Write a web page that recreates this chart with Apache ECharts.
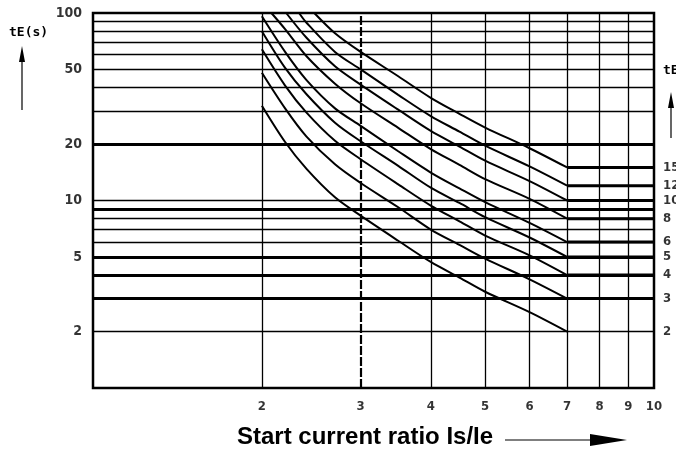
<!DOCTYPE html>
<html><head><meta charset="utf-8">
<script src="https://cdn.jsdelivr.net/npm/echarts@6/dist/echarts.min.js"></script>
<style>html,body{margin:0;padding:0;background:#fff}#c{width:676px;height:457px}</style>
</head><body><div id="c"></div>
<script>
// ---- data ----
var tEValues = [2, 3, 4, 5, 6, 8, 10, 12, 15];
var curve2  = [[2,32],[2.2,20.5],[2.4,14.8],[2.7,10.4],[3,8.3],[3.5,6.1],[4,4.7],[4.5,3.88],[5,3.26],[6,2.54],[7,2]];
var curve3  = [[2,48],[2.2,31],[2.4,22],[2.7,15.6],[3,12.4],[3.5,9.2],[4,7.0],[4.5,5.8],[5,4.9],[6,3.8],[7,3],[10,3]];
var curve4  = [[2,64],[2.2,41],[2.4,29.5],[2.7,20.8],[3,16.6],[3.5,12.2],[4,9.4],[4.5,7.75],[5,6.5],[6,5.1],[7,4],[10,4]];
var curve5  = [[2,80],[2.2,51],[2.4,37],[2.7,26],[3,20.7],[3.5,15.3],[4,11.7],[4.5,9.7],[5,8.15],[6,6.35],[7,5],[10,5]];
var curve6  = [[2,96],[2.2,62],[2.4,44],[2.7,31],[3,25],[3.5,18.3],[4,14.1],[4.5,11.6],[5,9.8],[6,7.6],[7,6],[10,6]];
var curve8  = [[2.08,100],[2.2,82],[2.4,59],[2.7,42],[3,33],[3.5,24.4],[4,18.8],[4.5,15.5],[5,13],[6,10.2],[7,8],[10,8]];
var curve10 = [[2.21,100],[2.4,74],[2.7,52],[3,41.5],[3.5,30.5],[4,23.5],[4.5,19.4],[5,16.3],[6,12.7],[7,10],[10,10]];
var curve12 = [[2.33,100],[2.4,89],[2.7,62],[3,50],[3.5,36.6],[4,28.2],[4.5,23.3],[5,19.6],[6,15.2],[7,12],[10,12]];
var curve15 = [[2.48,100],[2.7,78],[3,62],[3.5,46],[4,35.3],[4.5,29],[5,24.5],[6,19],[7,15],[10,15]];
var xTickLabels = [2, 3, 4, 5, 6, 7, 8, 9, 10];
var yTickLabels = [100, 50, 20, 10, 5, 2];
var yGridValues = [2, 3, 4, 5, 6, 7, 8, 9, 10, 20, 30, 40, 50, 60, 70, 80, 90];
var yThick = [20, 9, 5, 4, 3];
var xGridValues = [2, 4, 5, 6, 7, 8, 9];

var chart = echarts.init(document.getElementById('c'), null, {renderer: 'canvas'});
var numFont = "'Liberation Sans Narrow','DejaVu Sans Condensed',sans-serif";

var gridMarks = [];
yGridValues.forEach(function (v) {
  var w = yThick.indexOf(v) >= 0 ? 3 : 1.3;
  gridMarks.push({yAxis: v, lineStyle: {width: w, color: '#000', type: 'solid'}});
});
xGridValues.forEach(function (v) {
  gridMarks.push({xAxis: v, lineStyle: {width: 1.3, color: '#000', type: 'solid'}});
});
gridMarks.push({xAxis: 3, lineStyle: {width: 2.2, color: '#000', type: [9, 2]}});

var curves = [curve2, curve3, curve4, curve5, curve6, curve8, curve10, curve12, curve15];
var series = [];
series.push({
  type: 'line', data: [[1, 1]], symbol: 'none', silent: true, lineStyle: {width: 0},
  markLine: {symbol: 'none', silent: true, label: {show: false}, animation: false, data: gridMarks}
});
curves.forEach(function (c, i) {
  var hasTail = c[c.length - 1][0] === 10;
  series.push({
    type: 'line', name: 'tE=' + tEValues[i], data: hasTail ? c.slice(0, c.length - 1) : c, symbol: 'none',
    smooth: 0.3,
    lineStyle: {color: '#000', width: 2}, silent: true, animation: false, z: 3
  });
  if (hasTail) {
    series.push({
      type: 'line', data: [c[c.length - 2], c[c.length - 1]], symbol: 'none',
      lineStyle: {color: '#000', width: 3}, silent: true, animation: false, z: 3
    });
  }
});
series.push({
  type: 'scatter', data: xTickLabels.map(function (v) { return [v, 1]; }), symbolSize: 0, silent: true,
  label: {show: true, position: 'bottom', distance: 12, formatter: function (p) { return p.value[0]; },
    color: '#000', fontSize: 13, fontWeight: 'bold', fontFamily: numFont}
});
series.push({
  type: 'scatter', data: yTickLabels.map(function (v) { return [1, v]; }), symbolSize: 0, silent: true,
  label: {show: true, position: 'left', distance: 11, formatter: function (p) { return p.value[1]; },
    color: '#000', fontSize: 14, fontWeight: 'bold', fontFamily: numFont}
});
series.push({
  type: 'scatter', data: tEValues.map(function (v) { return [10, v]; }), symbolSize: 0, silent: true,
  label: {show: true, position: 'right', distance: 9, formatter: function (p) { return p.value[1]; },
    color: '#000', fontSize: 13, fontWeight: 'bold', fontFamily: numFont}
});

chart.setOption({
  animation: false,
  backgroundColor: '#fff',
  grid: {left: 93, right: 22, top: 13, bottom: 69, show: true, borderColor: '#000', borderWidth: 2.5, backgroundColor: 'transparent'},
  xAxis: {type: 'log', logBase: 10, min: 1, max: 10, axisLine: {show: false}, axisTick: {show: false}, axisLabel: {show: false}, splitLine: {show: false}},
  yAxis: {type: 'log', logBase: 10, min: 1, max: 100, axisLine: {show: false}, axisTick: {show: false}, axisLabel: {show: false}, splitLine: {show: false}},
  series: series,
  graphic: [
    {type: 'text', left: 9, top: 26, style: {text: 'tE(s)', font: "bold 13px 'DejaVu Sans Mono',monospace", fill: '#000'}},
    {type: 'line', shape: {x1: 22, y1: 56, x2: 22, y2: 110}, style: {stroke: '#000', lineWidth: 1.2}},
    {type: 'polygon', shape: {points: [[22, 46], [25, 62], [19, 62]]}, style: {fill: '#000'}},
    {type: 'text', left: 663, top: 64, style: {text: 'tE', font: "bold 13px 'DejaVu Sans Mono',monospace", fill: '#000'}},
    {type: 'line', shape: {x1: 671, y1: 100, x2: 671, y2: 138}, style: {stroke: '#000', lineWidth: 1.2}},
    {type: 'polygon', shape: {points: [[671, 92], [674, 108], [668, 108]]}, style: {fill: '#000'}},
    {type: 'text', left: 237, top: 425, style: {text: 'Start current ratio Is/Ie', font: "bold 24px 'Liberation Sans',Arial,sans-serif", fill: '#000'}},
    {type: 'line', shape: {x1: 505, y1: 440, x2: 595, y2: 440}, style: {stroke: '#000', lineWidth: 1.2}},
    {type: 'polygon', shape: {points: [[590, 434], [627, 440], [590, 446]]}, style: {fill: '#000'}}
  ]
});
</script></body></html>
